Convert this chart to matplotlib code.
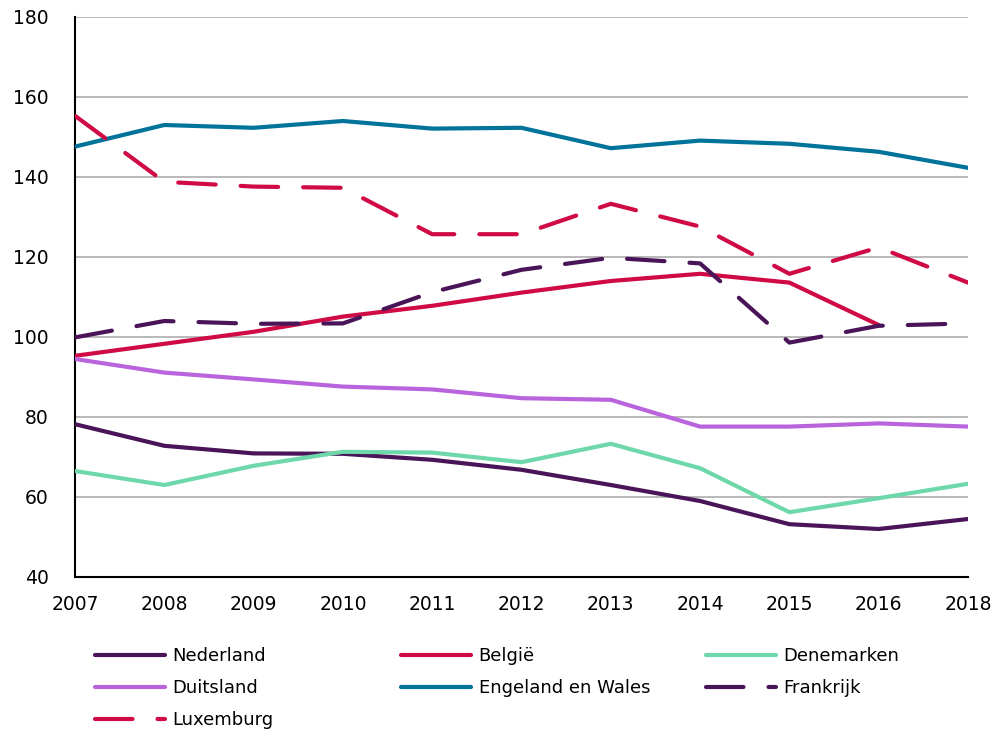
import numpy as np
import matplotlib
matplotlib.use("Agg")
import matplotlib.pyplot as plt


# Years on the category axis (2017 is not in the series)
years = ["2007", "2008", "2009", "2010", "2011", "2012", "2013", "2014", "2015", "2016", "2018"]

# Values per country
nederland = [78.2, 72.8, 70.9, 70.8, 69.3, 66.8, 63.0, 59.0, 53.2, 52.0, 54.5]
belgie = [95.3, 98.3, 101.3, 105.1, 107.8, 111.1, 114.0, 115.8, 113.6, 103.0, np.nan]
denemarken = [66.5, 63.0, 67.8, 71.3, 71.1, 68.7, 73.3, 67.2, 56.2, 59.7, 63.3]
duitsland = [94.5, 91.1, 89.4, 87.6, 86.9, 84.7, 84.3, 77.6, 77.6, 78.4, 77.6]
engeland = [147.6, 153.0, 152.3, 154.0, 152.1, 152.3, 147.2, 149.1, 148.3, 146.3, 142.3]
frankrijk = [99.9, 104.0, 103.3, 103.4, 111.2, 116.8, 119.8, 118.4, 98.6, 102.8, 103.4]
luxemburg = [155.3, 138.8, 137.6, 137.3, 125.7, 125.7, 133.3, 127.6, 115.8, 122.4, 113.6]

# colours
c_ned = "#4a1558"
c_bel = "#cf0a45"
c_den = "#6ed8ab"
c_dui = "#b964dd"
c_eng = "#00739a"

x = np.arange(len(years))

fig = plt.figure(figsize=(9.97, 7.34), dpi=100)
ax = fig.add_axes([75 / 997, 1 - 577 / 734, 893 / 997, 560 / 734])

lw = 3
dash = (9, 6)
series = [
    ("Nederland", nederland, c_ned, None),
    ("België", belgie, c_bel, None),
    ("Denemarken", denemarken, c_den, None),
    ("Duitsland", duitsland, c_dui, None),
    ("Engeland en Wales", engeland, c_eng, None),
    ("Frankrijk", frankrijk, c_ned, dash),
    ("Luxemburg", luxemburg, c_bel, dash),
]

handles = {}
for name, vals, col, ds in series:
    kw = dict(color=col, lw=lw, solid_capstyle="round", dash_capstyle="round",
              solid_joinstyle="round", label=name, zorder=3)
    if ds is not None:
        kw["dashes"] = ds
    ln, = ax.plot(x, vals, **kw)
    handles[name] = ln

ax.set_xlim(0, len(years) - 1)
ax.set_ylim(40, 180)
ax.set_yticks(np.arange(40, 181, 20))
ax.set_xticks(x)
ax.set_xticklabels(years)
ax.tick_params(axis="both", length=0, labelsize=13.5, colors="black")
ax.tick_params(axis="x", pad=13)
ax.tick_params(axis="y", pad=19)

ax.grid(axis="y", color="#a6a6a6", lw=1.1, zorder=0)
ax.set_axisbelow(True)
for s in ["top", "right"]:
    ax.spines[s].set_visible(False)
for s in ["left", "bottom"]:
    ax.spines[s].set_color("black")
    ax.spines[s].set_linewidth(1.5)

# legend in three fixed-width columns
cols = [
    (95, ["Nederland", "Duitsland", "Luxemburg"]),
    (401, ["België", "Engeland en Wales"]),
    (706, ["Denemarken", "Frankrijk"]),
]
for xpix, names in cols:
    fig.legend([handles[n] for n in names], names,
               loc="upper left", bbox_to_anchor=(xpix / 997, 1 - 647 / 734),
               frameon=False, fontsize=13, handlelength=3.9, handletextpad=0.4,
               labelspacing=0.78, borderpad=0, borderaxespad=0)

fig.savefig("out.png", dpi=100)
